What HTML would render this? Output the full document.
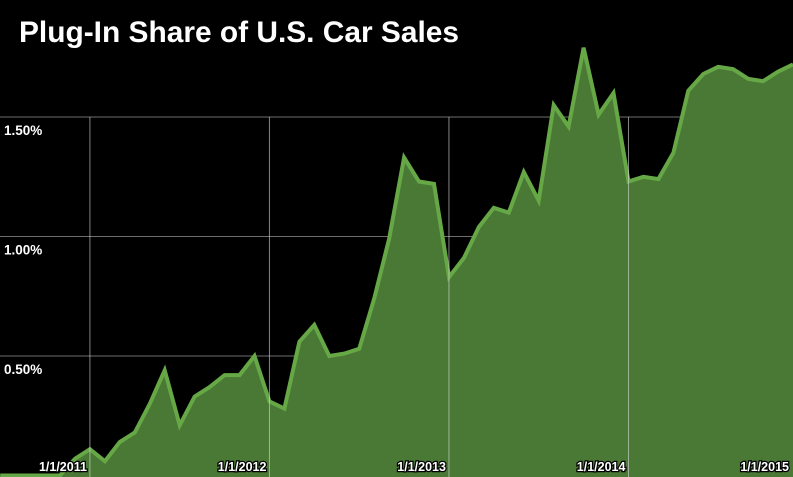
<!DOCTYPE html>
<html>
<head>
<meta charset="utf-8">
<style>
html,body{margin:0;padding:0;background:#000;}
svg{display:block;}
text{font-family:"Liberation Sans",Arial,sans-serif;}
</style>
</head>
<body>
<svg id="chart" width="793" height="477" viewBox="0 0 793 477" xmlns="http://www.w3.org/2000/svg">
  <rect x="0" y="0" width="793" height="477" fill="#000"/>
  <g id="grid-h"></g>
  <g id="area-layer"></g>
  <g id="grid-v"></g>
  <g id="labels"></g>
  <text x="19" y="42" font-size="30" font-weight="bold" fill="#fff" textLength="440" lengthAdjust="spacingAndGlyphs">Plug-In Share of U.S. Car Sales</text>
</svg>
<script>
// Monthly plug-in share (%) starting Jul 2010
const startMonth = "2010-07";
const shareValues = [0,0,0,0,
  0.00,0.07,0.11,0.06,0.14,0.18,0.30,0.44,0.21,0.33,
  0.37,0.42,0.42,0.50,0.31,0.28,0.56,0.63,0.50,0.51,
  0.53,0.74,0.99,1.33,1.23,1.22,0.83,0.91,1.04,1.12,
  1.10,1.27,1.15,1.55,1.46,1.79,1.51,1.60,1.23,1.25,
  1.24,1.35,1.61,1.68,1.71,1.70,1.66,1.65,1.69,1.72];
const yTicks = [0.5,1.0,1.5];
const yTickLabels = ["0.50%","1.00%","1.50%"];
const xTickIndex = [6,18,30,42,54];
const xTickLabels = ["1/1/2011","1/1/2012","1/1/2013","1/1/2014","1/1/2015"];

const NS = "http://www.w3.org/2000/svg";
const step = 14.96;
function xScale(i){ return 60 + (i-4)*step; }
function yScale(v){ return 475.5 - v*239; }

function mk(tag, attrs, parent){
  const e = document.createElementNS(NS, tag);
  for (const k in attrs) e.setAttribute(k, attrs[k]);
  parent.appendChild(e);
  return e;
}

const gh = document.getElementById('grid-h');
yTicks.forEach(function(v, i){
  const l = mk('line', {x1:0, x2:793, y1:yScale(v), y2:yScale(v), stroke:'rgba(200,200,200,0.55)', 'stroke-width':1}, gh);
  
  
});

const al = document.getElementById('area-layer');
let pts = shareValues.map(function(v,i){ return xScale(i).toFixed(1)+','+yScale(v).toFixed(1); });
const lastX = xScale(shareValues.length-1);
const area = mk('polygon', {points: xScale(0)+',477 '+pts.join(' ')+' '+lastX+',477', fill:'#4a7935'}, al);


const line = mk('polyline', {points: pts.join(' '), fill:'none', stroke:'#67a846', 'stroke-width':4, 'stroke-linejoin':'miter'}, al);



const gv = document.getElementById('grid-v');
const lb = document.getElementById('labels');
xTickIndex.forEach(function(idx, i){
  const x = xScale(idx);
  if (x < 793) {
    const l = mk('line', {x1:x, x2:x, y1:117, y2:477, stroke:'rgba(220,220,220,0.6)', 'stroke-width':1}, gv);
    
    
  }
  const tx = Math.min(x - 3, 789);
  const t = mk('text', {x: tx, y:471, 'text-anchor':'end', 'font-size':12.5, 'font-weight':'bold', fill:'#fff', stroke:'#000', 'stroke-width':2.5, 'paint-order':'stroke'}, lb);
  t.textContent = xTickLabels[i];
  
  
});
yTicks.forEach(function(v, i){
  const t = mk('text', {x:4, y:yScale(v)+18, 'font-size':13.5, 'font-weight':'bold', fill:'#fff', stroke:'#000', 'stroke-width':2.5, 'paint-order':'stroke'}, lb);
  t.textContent = yTickLabels[i];
  
  
});
</script>
</body>
</html>
